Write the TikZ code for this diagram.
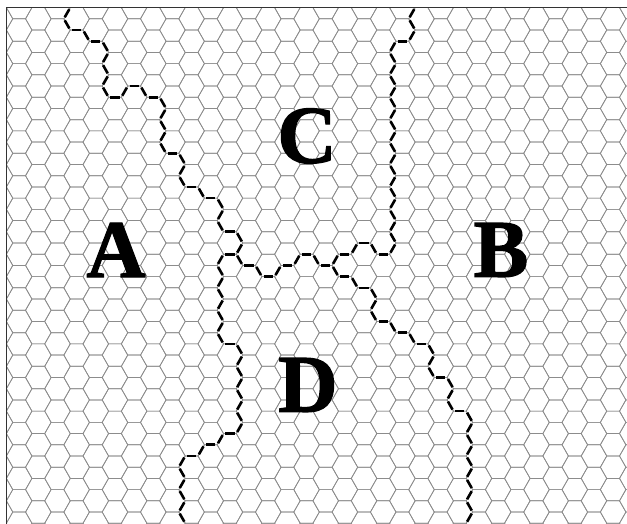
\documentclass[tikz,border=0pt]{standalone}
\usepackage{fontspec}
\newfontfamily\lblfont{Liberation Serif}[BoldFeatures={FakeBold=1.5}]
\tikzset{
  gridline/.style={draw=black!45, line width=0.7pt, line join=round},
  framel/.style={draw=black!80, line width=1.4pt},
  bd/.style={draw=black, line width=2.6pt, shorten <=1.8pt, shorten >=1.8pt},
  lbl/.style={inner sep=0pt, font=\lblfont\bfseries\fontsize{82}{82}\selectfont}
}
% draw a border through lattice vertices (u,v)
\newcommand\hexborder[1]{%
  \foreach \u/\v [count=\n, remember=\u as \pu (initially 0), remember=\v as \pv (initially 0)] in {#1} {%
    \ifnum\n>1
      \pgfmathsetmacro\xa{19.16*floor(\pu/2)+6.387*(2*mod(\pu,2)-1)}
      \pgfmathsetmacro\ya{7.58+11.21*\pv}
      \pgfmathsetmacro\xb{19.16*floor(\u/2)+6.387*(2*mod(\u,2)-1)}
      \pgfmathsetmacro\yb{7.58+11.21*\v}
      \draw[bd] (\xa,\ya) -- (\xb,\yb);
    \fi
  }}
\begin{document}
\begin{tikzpicture}[x=1pt,y=-1pt]
\useasboundingbox (0,0) rectangle (627,524);
\fill[white] (0,0) rectangle (627,524);
\begin{scope}
\clip (6.5,7.58) rectangle (627,524);
\foreach \k in {0,...,33} {
  \pgfmathsetmacro\X{19.16*\k}
  \foreach \j in {-1,...,23} {
    \pgfmathsetmacro\Y{18.79-11.21*mod(\k,2)+22.42*\j}
    \draw[gridline] (\X-6.387,\Y-11.21) -- (\X+6.387,\Y-11.21) -- (\X+12.773,\Y)
      -- (\X+6.387,\Y+11.21) -- (\X-6.387,\Y+11.21) -- (\X-12.773,\Y) -- cycle;
  }
}
% A / C
\hexborder{8/0,7/1,8/2,9/2,10/3,11/3,12/4,11/5,12/6,11/7,12/8,13/8,14/7,15/7,16/8,17/8,18/9,17/10,18/11,17/12,18/13,19/13,20/14,19/15,20/16,21/16,22/17,23/17,24/18,23/19,24/20,25/20,26/21,25/22}
% C / D
\hexborder{25/22,26/23,27/23,28/24,29/24,30/23,31/23,32/22,33/22,34/23,35/23}
% A / D
\hexborder{25/22,24/22,23/23,24/24,23/25,24/26,23/27,24/28,23/29,24/30,25/30,26/31,25/32,26/33,25/34,26/35,25/36,26/37,25/38,24/38,23/39,22/39,21/40,20/40,19/41,20/42,19/43,20/44,19/45,20/46,19/47}
% B / C
\hexborder{44/0,43/1,44/2,43/3,42/3,41/4,42/5,41/6,42/7,41/8,42/9,41/10,42/11,41/12,42/13,41/14,42/15,41/16,42/17,41/18,42/19,41/20,42/21,41/22,40/22,39/21,38/21,37/22,36/22,35/23}
% D / B
\hexborder{35/23,36/24,37/24,38/25,39/25,40/26,39/27,40/28,41/28,42/29,43/29,44/30,45/30,46/31,45/32,46/33,47/33,48/34,47/35,48/36,49/36,50/37,49/38,50/39,49/40,50/41,49/42,50/43,49/44,50/45,49/46,50/47}
\end{scope}
\draw[framel] (627,7.58) -- (6.5,7.58) -- (6.5,524);
\node[lbl] (A) at (116,250) {A};
\node[lbl] (B) at (501,250) {B};
\node[lbl] (C) at (307,136) {C};
\node[lbl] (D) at (308,385) {D};
\end{tikzpicture}
\end{document}
